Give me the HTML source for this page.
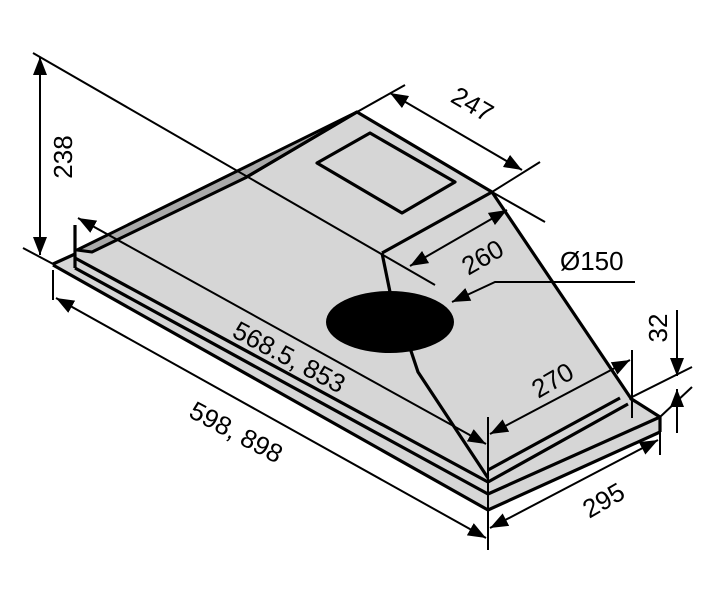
<!DOCTYPE html>
<html><head><meta charset="utf-8"><style>html,body{margin:0;padding:0;background:#fff}svg{display:block}</style></head>
<body>
<svg width="710" height="600" viewBox="0 0 710 600" xmlns="http://www.w3.org/2000/svg" font-family="Liberation Sans, sans-serif">
<defs>
<marker id="a" viewBox="0 0 18 14" refX="18" refY="7" markerWidth="18" markerHeight="14" orient="auto-start-reverse" markerUnits="userSpaceOnUse"><path d="M0,0 L18,7 L0,14 z"/></marker>
</defs>
<style>.d{stroke:#000;stroke-width:2;fill:none}.o{stroke:#000;stroke-width:3.2;fill:none;stroke-linejoin:round}.t{font-size:26px;fill:#000}</style>
<!-- plate -->
<polygon points="53,264 75,254 630,398 660,417 660,432 488,510" fill="#d6d6d6"/>
<!-- body -->
<polygon points="77,250 357,112 492,192 632,398 632,405 488,480 77,262" fill="#d6d6d6"/>
<polygon points="77,250 357,112 245,178 92,252" fill="#a9a9a9" stroke="#000" stroke-width="3" stroke-linejoin="round"/>
<polygon points="317,163 370,133 455,182 402,213" fill="#a9a9a9" class="o"/>
<polyline class="o" points="245,178 357,112 492,192 382,253"/>
<line class="o" x1="492" y1="192" x2="632" y2="400"/>
<polyline class="o" points="382,253 390,292"/>
<polyline class="o" points="410,348 418,372 488,478"/>
<ellipse cx="390" cy="322" rx="64" ry="31" fill="#000"/>
<!-- rims -->
<line class="o" x1="75" y1="258" x2="488" y2="482"/>
<line class="o" x1="75" y1="268" x2="488" y2="494"/>
<line class="o" x1="53" y1="265" x2="488" y2="510"/>
<line class="o" x1="75" y1="225" x2="75" y2="268"/>
<line class="o" x1="488" y1="482" x2="628" y2="404"/>
<line class="o" x1="488" y1="494" x2="660" y2="417"/>
<line class="o" x1="488" y1="470" x2="620" y2="398"/>
<line class="o" x1="630" y1="398" x2="660" y2="417"/>
<line class="o" x1="660" y1="417" x2="660" y2="432"/>
<line class="o" x1="488" y1="510" x2="660" y2="432"/>
<line class="o" x1="53" y1="264" x2="75" y2="254"/>
<!-- extension lines -->
<line class="d" x1="33" y1="53" x2="435" y2="285"/>
<line class="d" x1="23" y1="248" x2="55" y2="265"/>
<line class="d" x1="357" y1="112" x2="405" y2="85"/>
<line class="d" x1="492" y1="192" x2="540" y2="162"/>
<line class="d" x1="492" y1="192" x2="545" y2="222"/>
<line class="d" x1="53" y1="270" x2="53" y2="300"/>
<line class="d" x1="488" y1="417" x2="488" y2="550"/>
<line class="d" x1="632" y1="350" x2="632" y2="418"/>
<line class="d" x1="660" y1="417" x2="660" y2="455"/>
<line class="d" x1="630" y1="398" x2="692" y2="367"/>
<line class="d" x1="660" y1="417" x2="692" y2="387"/>
<!-- dimension lines -->
<line class="d" x1="40" y1="57" x2="40" y2="255" marker-start="url(#a)" marker-end="url(#a)"/>
<line class="d" x1="390" y1="93" x2="522" y2="170" marker-start="url(#a)" marker-end="url(#a)"/>
<line class="d" x1="410" y1="266" x2="507" y2="210" marker-start="url(#a)" marker-end="url(#a)"/>
<polyline class="d" points="635,282 495,282 452,302" marker-end="url(#a)"/>
<line class="d" x1="78" y1="218" x2="486" y2="444" marker-start="url(#a)" marker-end="url(#a)"/>
<line class="d" x1="56" y1="298" x2="486" y2="538" marker-start="url(#a)" marker-end="url(#a)"/>
<line class="d" x1="490" y1="434" x2="630" y2="360" marker-start="url(#a)" marker-end="url(#a)"/>
<line class="d" x1="490" y1="528" x2="658" y2="440" marker-start="url(#a)" marker-end="url(#a)"/>
<line class="d" x1="677" y1="310" x2="677" y2="376" marker-end="url(#a)"/>
<line class="d" x1="677" y1="433" x2="677" y2="389" marker-end="url(#a)"/>
<!-- labels -->
<text class="t" transform="translate(72,157) rotate(-90)" text-anchor="middle">238</text>
<text class="t" transform="translate(468,112) rotate(30)" text-anchor="middle">247</text>
<text class="t" transform="translate(487,265) rotate(-30)" text-anchor="middle">260</text>
<text class="t" x="560" y="270">Ø150</text>
<text class="t" transform="translate(285,365) rotate(28)" text-anchor="middle">568.5, 853</text>
<text class="t" transform="translate(232,440) rotate(28)" text-anchor="middle">598, 898</text>
<text class="t" transform="translate(557,388) rotate(-30)" text-anchor="middle">270</text>
<text class="t" transform="translate(608,508) rotate(-30)" text-anchor="middle">295</text>
<text class="t" transform="translate(667,328) rotate(-90)" text-anchor="middle">32</text>
</svg>
</body></html>
